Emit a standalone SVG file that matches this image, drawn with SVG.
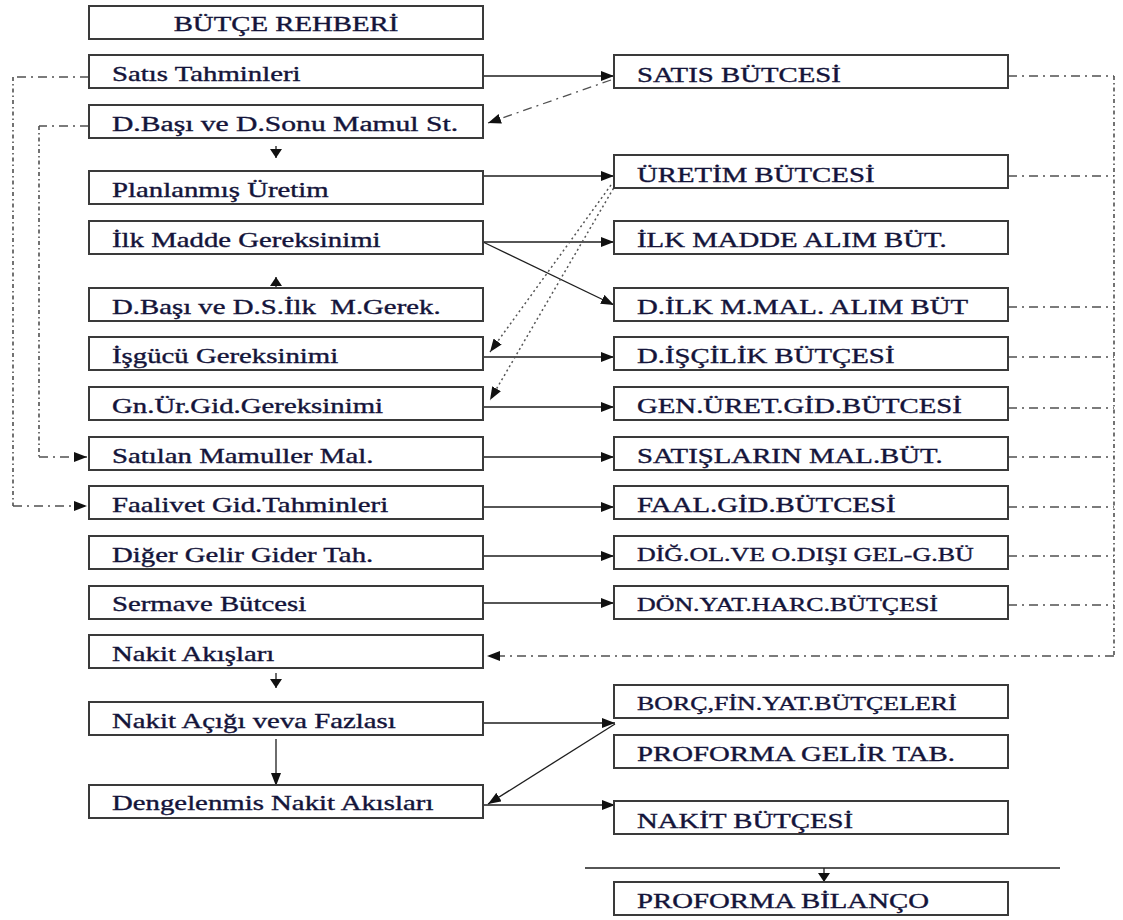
<svg xmlns="http://www.w3.org/2000/svg" width="1123" height="920" viewBox="0 0 1123 920">
  <style>
    .box { fill: #ffffff; stroke: #3a3a3a; stroke-width: 2; }
    .t { font-family: "Liberation Serif", "Times New Roman", serif; font-size: 20px; fill: #14143a; stroke: #14143a; stroke-width: 0.35; }
    .ts { font-size: 18px; }
    .ln { fill: none; stroke: #1e1e1e; stroke-width: 1.3; }
    .dd { fill: none; stroke: #505050; stroke-width: 1.3; stroke-dasharray: 9 5 2 5; }
    .dv { fill: none; stroke: #505050; stroke-width: 1.6; stroke-dasharray: 4 3 1.5 3; }
    .dot { fill: none; stroke: #555555; stroke-width: 1.5; stroke-dasharray: 2 3; }
  </style>
  <defs>
    <marker id="ah" markerUnits="userSpaceOnUse" markerWidth="14" markerHeight="10" refX="13" refY="5" orient="auto">
      <path d="M0,0 L13,5 L0,10 z" fill="#111111"/>
    </marker>
    <marker id="ahs" markerUnits="userSpaceOnUse" markerWidth="10" markerHeight="12" refX="9" refY="6" orient="auto">
      <path d="M0,0 L9,6 L0,12 z" fill="#111111"/>
    </marker>
  </defs>

  <!-- connectors -->
  <g id="connectors">
    <!-- solid left-to-right flows -->
    <line class="ln" x1="483" y1="76" x2="614" y2="76" marker-end="url(#ah)"/>
    <line class="ln" x1="483" y1="176" x2="614" y2="176" marker-end="url(#ah)"/>
    <line class="ln" x1="483" y1="242" x2="614" y2="242" marker-end="url(#ah)"/>
    <line class="ln" x1="483" y1="242" x2="614" y2="305" marker-end="url(#ah)"/>
    <line class="ln" x1="483" y1="357" x2="614" y2="357" marker-end="url(#ah)"/>
    <line class="ln" x1="483" y1="407" x2="614" y2="407" marker-end="url(#ah)"/>
    <line class="ln" x1="483" y1="457" x2="614" y2="457" marker-end="url(#ah)"/>
    <line class="ln" x1="483" y1="507" x2="614" y2="507" marker-end="url(#ah)"/>
    <line class="ln" x1="483" y1="556" x2="614" y2="556" marker-end="url(#ah)"/>
    <line class="ln" x1="483" y1="603" x2="614" y2="603" marker-end="url(#ah)"/>
    <line class="ln" x1="483" y1="723" x2="615" y2="723" marker-end="url(#ah)"/>
    <line class="ln" x1="615" y1="724" x2="488" y2="804" marker-end="url(#ah)"/>
    <line class="ln" x1="483" y1="805" x2="615" y2="805" marker-end="url(#ah)"/>

    <!-- vertical flows in the left column -->
    <line class="ln" x1="276" y1="146" x2="276" y2="158" marker-end="url(#ahs)"/>
    <line class="ln" x1="276" y1="290" x2="276" y2="277" marker-end="url(#ahs)"/>
    <line class="ln" x1="276" y1="673" x2="276" y2="688" marker-end="url(#ahs)"/>
    <line class="ln" x1="276" y1="739" x2="276" y2="786" marker-end="url(#ah)"/>

    <!-- closing rule and arrow to the balance sheet -->
    <line class="ln" x1="585" y1="868" x2="1060" y2="868"/>
    <line class="ln" x1="824" y1="868" x2="824" y2="882" marker-end="url(#ahs)"/>

    <!-- dash-dot feedback lines -->
    <line class="dd" x1="611" y1="80" x2="488" y2="123" marker-end="url(#ah)"/>
    <line class="dot" x1="611" y1="185" x2="490" y2="352" marker-end="url(#ah)"/>
    <line class="dot" x1="616" y1="184" x2="490" y2="400" marker-end="url(#ah)"/>

    <!-- left-hand loops -->
    <polyline class="dd" points="89,77 13,77"/>
    <polyline class="dv" points="13,77 13,506"/>
    <polyline class="dd" points="13,506 87,506" marker-end="url(#ah)"/>
    <polyline class="dd" points="89,126 39,126"/>
    <polyline class="dv" points="39,126 39,457"/>
    <polyline class="dd" points="39,457 87,457" marker-end="url(#ah)"/>

    <!-- right-hand collector bus into cash flows -->
    <line class="dd" x1="1008" y1="76" x2="1114" y2="76"/>
    <line class="dd" x1="1008" y1="176" x2="1114" y2="176"/>
    <line class="dd" x1="1008" y1="307" x2="1114" y2="307"/>
    <line class="dd" x1="1008" y1="357" x2="1114" y2="357"/>
    <line class="dd" x1="1008" y1="408" x2="1114" y2="408"/>
    <line class="dd" x1="1008" y1="457" x2="1114" y2="457"/>
    <line class="dd" x1="1008" y1="507" x2="1114" y2="507"/>
    <line class="dd" x1="1008" y1="556" x2="1114" y2="556"/>
    <line class="dd" x1="1008" y1="605" x2="1114" y2="605"/>
    <line class="dv" x1="1114" y1="76" x2="1114" y2="656"/>
    <line class="dd" x1="1114" y1="656" x2="487" y2="656" marker-end="url(#ah)"/>
  </g>

  <!-- left column -->
  <g id="butce-rehberi"><rect class="box" x="89" y="6" width="394" height="33"/><text class="t" text-anchor="middle" transform="translate(286 31) scale(1.44 1)">BÜTÇE REHBERİ</text></g>
  <g id="satis-tahminleri"><rect class="box" x="89" y="55" width="394" height="33"/><text class="t" transform="translate(112 81) scale(1.44 1)">Satıs Tahminleri</text></g>
  <g id="dbasi-mamul"><rect class="box" x="89" y="105" width="394" height="33"/><text class="t" transform="translate(112 131) scale(1.48 1)">D.Başı ve D.Sonu Mamul St.</text></g>
  <g id="planlanmis-uretim"><rect class="box" x="89" y="171" width="394" height="33"/><text class="t" transform="translate(112 197) scale(1.44 1)">Planlanmış Üretim</text></g>
  <g id="ilk-madde"><rect class="box" x="89" y="221" width="394" height="33"/><text class="t" transform="translate(112 247) scale(1.44 1)">İlk Madde Gereksinimi</text></g>
  <g id="dbasi-ilk"><rect class="box" x="89" y="288" width="394" height="33"/><text class="t" xml:space="preserve" transform="translate(112 314) scale(1.44 1)">D.Başı ve D.S.İlk  M.Gerek.</text></g>
  <g id="isgucu"><rect class="box" x="89" y="337" width="394" height="33"/><text class="t" transform="translate(112 363) scale(1.44 1)">İşgücü Gereksinimi</text></g>
  <g id="gn-ur-gid"><rect class="box" x="89" y="387" width="394" height="33"/><text class="t" transform="translate(112 413) scale(1.44 1)">Gn.Ür.Gid.Gereksinimi</text></g>
  <g id="satilan-mamul"><rect class="box" x="89" y="437" width="394" height="33"/><text class="t" transform="translate(112 463) scale(1.44 1)">Satılan Mamuller Mal.</text></g>
  <g id="faaliyet-gid"><rect class="box" x="89" y="486" width="394" height="33"/><text class="t" transform="translate(112 512) scale(1.44 1)">Faalivet Gid.Tahminleri</text></g>
  <g id="diger-gelir"><rect class="box" x="89" y="536" width="394" height="33"/><text class="t" transform="translate(112 562) scale(1.44 1)">Diğer Gelir Gider Tah.</text></g>
  <g id="sermaye"><rect class="box" x="89" y="586" width="394" height="33"/><text class="t" transform="translate(112 611) scale(1.44 1)">Sermave Bütcesi</text></g>
  <g id="nakit-akislari"><rect class="box" x="89" y="635" width="394" height="33"/><text class="t" transform="translate(112 661) scale(1.44 1)">Nakit Akışları</text></g>
  <g id="nakit-acigi"><rect class="box" x="89" y="702" width="394" height="33"/><text class="t" transform="translate(112 728) scale(1.44 1)">Nakit Açığı veva Fazlası</text></g>
  <g id="dengelenmis"><rect class="box" x="89" y="785" width="394" height="33"/><text class="t" transform="translate(112 810) scale(1.44 1)">Dengelenmis Nakit Akısları</text></g>

  <!-- right column -->
  <g id="satis-butcesi"><rect class="box" x="614" y="55" width="394" height="33"/><text class="t" transform="translate(637 82) scale(1.44 1)">SATIS BÜTCESİ</text></g>
  <g id="uretim-butcesi"><rect class="box" x="614" y="155" width="394" height="33"/><text class="t" transform="translate(637 182) scale(1.44 1)">ÜRETİM BÜTCESİ</text></g>
  <g id="ilk-madde-alim"><rect class="box" x="614" y="221" width="394" height="33"/><text class="t" transform="translate(637 247) scale(1.44 1)">İLK MADDE ALIM BÜT.</text></g>
  <g id="dilk-mal-alim"><rect class="box" x="614" y="288" width="394" height="33"/><text class="t" transform="translate(637 314) scale(1.44 1)">D.İLK M.MAL. ALIM BÜT</text></g>
  <g id="discilik"><rect class="box" x="614" y="337" width="394" height="33"/><text class="t" transform="translate(637 363) scale(1.44 1)">D.İŞÇİLİK BÜTÇESİ</text></g>
  <g id="gen-uret-gid"><rect class="box" x="614" y="387" width="394" height="33"/><text class="t" transform="translate(637 413) scale(1.44 1)">GEN.ÜRET.GİD.BÜTCESİ</text></g>
  <g id="satislarin-mal"><rect class="box" x="614" y="437" width="394" height="33"/><text class="t" transform="translate(637 463) scale(1.44 1)">SATIŞLARIN MAL.BÜT.</text></g>
  <g id="faal-gid"><rect class="box" x="614" y="486" width="394" height="33"/><text class="t" transform="translate(637 512) scale(1.44 1)">FAAL.GİD.BÜTCESİ</text></g>
  <g id="dig-ol"><rect class="box" x="614" y="536" width="394" height="33"/><text class="t ts" transform="translate(637 561) scale(1.44 1)">DİĞ.OL.VE O.DIŞI GEL-G.BÜ</text></g>
  <g id="don-yat"><rect class="box" x="614" y="586" width="394" height="33"/><text class="t ts" transform="translate(637 611) scale(1.44 1)">DÖN.YAT.HARC.BÜTÇESİ</text></g>
  <g id="borc-fin"><rect class="box" x="614" y="685" width="394" height="33"/><text class="t ts" transform="translate(637 710) scale(1.44 1)">BORÇ,FİN.YAT.BÜTÇELERİ</text></g>
  <g id="proforma-gelir"><rect class="box" x="614" y="735" width="394" height="33"/><text class="t" transform="translate(637 761) scale(1.44 1)">PROFORMA GELİR TAB.</text></g>
  <g id="nakit-butcesi"><rect class="box" x="614" y="801" width="394" height="33"/><text class="t" transform="translate(637 828) scale(1.44 1)">NAKİT BÜTÇESİ</text></g>
  <g id="proforma-bilanco"><rect class="box" x="614" y="882" width="394" height="33"/><text class="t" transform="translate(637 908) scale(1.44 1)">PROFORMA BİLANÇO</text></g>
</svg>
